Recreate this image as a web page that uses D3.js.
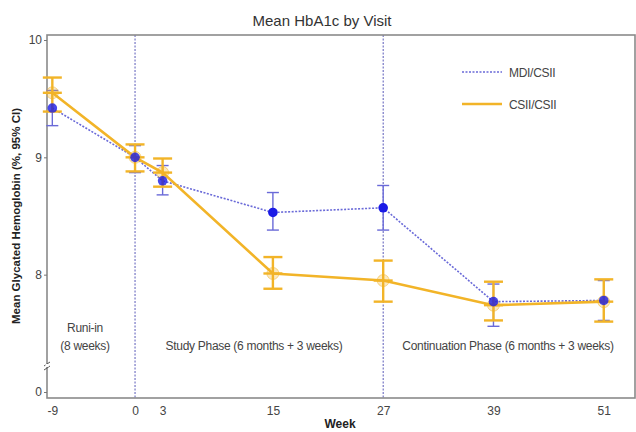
<!DOCTYPE html>
<html><head><meta charset="utf-8">
<script src="https://cdn.jsdelivr.net/npm/d3@7"></script>
<style>body{margin:0;background:#fff;}svg{display:block;font-family:"Liberation Sans",Arial,sans-serif;}</style>
</head><body>
<svg id="c" width="636" height="432"></svg>
<script>
const weeks = [-9, 0, 3, 15, 27, 39, 51];
const xTickLabels = ["-9", "0", "3", "15", "27", "39", "51"];
const mdiMean = [9.42, 9.00, 8.80, 8.53, 8.57, 7.77, 7.78];
const mdiLow  = [9.27, 8.87, 8.68, 8.38, 8.38, 7.56, 7.61];
const mdiHigh = [9.57, 9.10, 8.93, 8.70, 8.76, 7.92, 7.95];
const csiiMean = [9.55, 9.00, 8.87, 8.01, 7.95, 7.74, 7.77];
const csiiLow  = [9.39, 8.88, 8.75, 7.88, 7.77, 7.61, 7.60];
const csiiHigh = [9.68, 9.11, 8.99, 8.15, 8.12, 7.94, 7.96];
const yTickValues = [7, 8, 9, 10];
const yTickLabels = ["0", "8", "9", "10"];
const phaseWeeks = [0, 27];
const seriesNames = ["MDI/CSII", "CSII/CSII"];

const svg = d3.select("#c");
const L = 47, R = 635, T = 35, B = 398;
const x = d3.scaleLinear().domain([-9.58, 54.4]).range([L, R]);
const y = d3.scaleLinear().domain([7, 10]).range([392, 40]);
const blue = "#1a1ae6", blueLine = "#6a6ad8", orange = "#F2B428";

// title
svg.append("text").attr("x", 322).attr("y", 26).attr("text-anchor", "middle")
  .attr("font-size", 15).attr("fill", "#333").text("Mean HbA1c by Visit");

// phase lines
svg.selectAll(".ph").data(phaseWeeks).join("line")
  .attr("x1", d => x(d)).attr("x2", d => x(d)).attr("y1", T).attr("y2", B)
  .attr("stroke", "#5a5ab8").attr("stroke-width", 1).attr("stroke-dasharray", "2,1.5");

// frame
svg.append("rect").attr("x", L).attr("y", T).attr("width", R - L).attr("height", B - T)
  .attr("fill", "none").attr("stroke", "#8a8a8a").attr("stroke-width", 1.6);

// y axis
const yAxis = d3.axisLeft(y).tickValues(yTickValues).tickSize(3).tickPadding(2)
  .tickFormat((d, i) => yTickLabels[i]);
const ga = svg.append("g").attr("transform", `translate(${L},0)`).call(yAxis);
ga.select(".domain").remove();
ga.selectAll("line").attr("stroke", "#777");
ga.selectAll("text").attr("font-size", 12).attr("fill", "#444")
  .attr("font-family", "Liberation Sans, Arial, sans-serif");

// x axis
const xAxis = d3.axisBottom(x).tickValues(weeks).tickSize(0).tickPadding(8)
  .tickFormat((d, i) => xTickLabels[i]);
const gx = svg.append("g").attr("transform", `translate(0,${B})`).call(xAxis);
gx.select(".domain").remove();
gx.selectAll("text").attr("font-size", 12).attr("fill", "#444")
  .attr("font-family", "Liberation Sans, Arial, sans-serif");

// axis break
[[0], [4]].forEach(([o]) => {
  svg.append("line").attr("x1", L - 3).attr("x2", L + 3)
    .attr("y1", 366 + o).attr("y2", 362 + o).attr("stroke", "#555").attr("stroke-width", 1);
});
svg.append("rect").attr("x", L - 1.5).attr("y", 364).attr("width", 3).attr("height", 3).attr("fill", "#fff");

// axis titles
svg.append("text").attr("x", 340).attr("y", 428).attr("text-anchor", "middle")
  .attr("font-size", 12).attr("font-weight", "bold").attr("fill", "#222").text("Week");
svg.append("text").attr("transform", "translate(20,216) rotate(-90)").attr("text-anchor", "middle")
  .attr("font-size", 11.5).attr("font-weight", "bold").attr("fill", "#222")
  .text("Mean Glycated Hemoglobin (%, 95% CI)");

// phase annotations
const ann = [["Runi-in", 85, 332], ["(8 weeks)", 85, 350],
  ["Study Phase (6 months + 3 weeks)", 254, 350],
  ["Continuation Phase (6 months + 3 weeks)", 508, 350]];
svg.selectAll(".ann").data(ann).join("text")
  .attr("x", d => d[1]).attr("y", d => d[2]).attr("text-anchor", "middle")
  .attr("font-size", 12).attr("fill", "#444").attr("letter-spacing", -0.3).text(d => d[0]);

// MDI dotted line
const idx = d3.range(weeks.length);
svg.append("path").datum(idx)
  .attr("d", d3.line().x(i => x(weeks[i])).y(i => y(mdiMean[i])))
  .attr("fill", "none").attr("stroke", blueLine).attr("stroke-width", 1.6)
  .attr("stroke-dasharray", "2,1.5");

// MDI error bars
const eb = svg.append("g");
idx.forEach(i => {
  const cx = x(weeks[i]);
  eb.append("line").attr("x1", cx).attr("x2", cx).attr("y1", y(mdiLow[i])).attr("y2", y(mdiHigh[i]))
    .attr("stroke", blueLine).attr("stroke-width", 1.4);
  [mdiLow[i], mdiHigh[i]].forEach(v => eb.append("line").attr("x1", cx - 6).attr("x2", cx + 6)
    .attr("y1", y(v)).attr("y2", y(v)).attr("stroke", blueLine).attr("stroke-width", 1.4));
});

// CSII line
svg.append("path").datum(idx)
  .attr("d", d3.line().x(i => x(weeks[i])).y(i => y(csiiMean[i])))
  .attr("fill", "none").attr("stroke", orange).attr("stroke-width", 2.6);

// CSII error bars + markers
const oc = svg.append("g");
idx.forEach(i => {
  const cx = x(weeks[i]);
  oc.append("line").attr("x1", cx).attr("x2", cx).attr("y1", y(csiiLow[i])).attr("y2", y(csiiHigh[i]))
    .attr("stroke", orange).attr("stroke-width", 2.4);
  [csiiLow[i], csiiHigh[i], csiiMean[i]].forEach(v => oc.append("line").attr("x1", cx - 9.5).attr("x2", cx + 9.5)
    .attr("y1", y(v)).attr("y2", y(v)).attr("stroke", orange).attr("stroke-width", 2.4));
  oc.append("circle").attr("cx", cx).attr("cy", y(csiiMean[i])).attr("r", 6)
    .attr("fill", orange).attr("fill-opacity", 0.3).attr("stroke", orange).attr("stroke-opacity", 0.5);
});

// MDI markers
svg.selectAll(".mk").data(idx).join("circle")
  .attr("cx", i => x(weeks[i])).attr("cy", i => y(mdiMean[i])).attr("r", 4.8)
  .attr("fill", blue).attr("fill-opacity", i => (i === 3 || i === 4) ? 1 : 0.8);

// legend
const leg = [[seriesNames[0], 72, blueLine, 1.6, "2,1.5"], [seriesNames[1], 104, orange, 2.4, null]];
leg.forEach(([name, ly, col, w, da]) => {
  svg.append("line").attr("x1", 462).attr("x2", 502).attr("y1", ly).attr("y2", ly)
    .attr("stroke", col).attr("stroke-width", w).attr("stroke-dasharray", da);
  svg.append("text").attr("x", 509).attr("y", ly + 4.5).attr("font-size", 12)
    .attr("fill", "#444").attr("letter-spacing", -0.3).text(name);
});
</script>
</body></html>
